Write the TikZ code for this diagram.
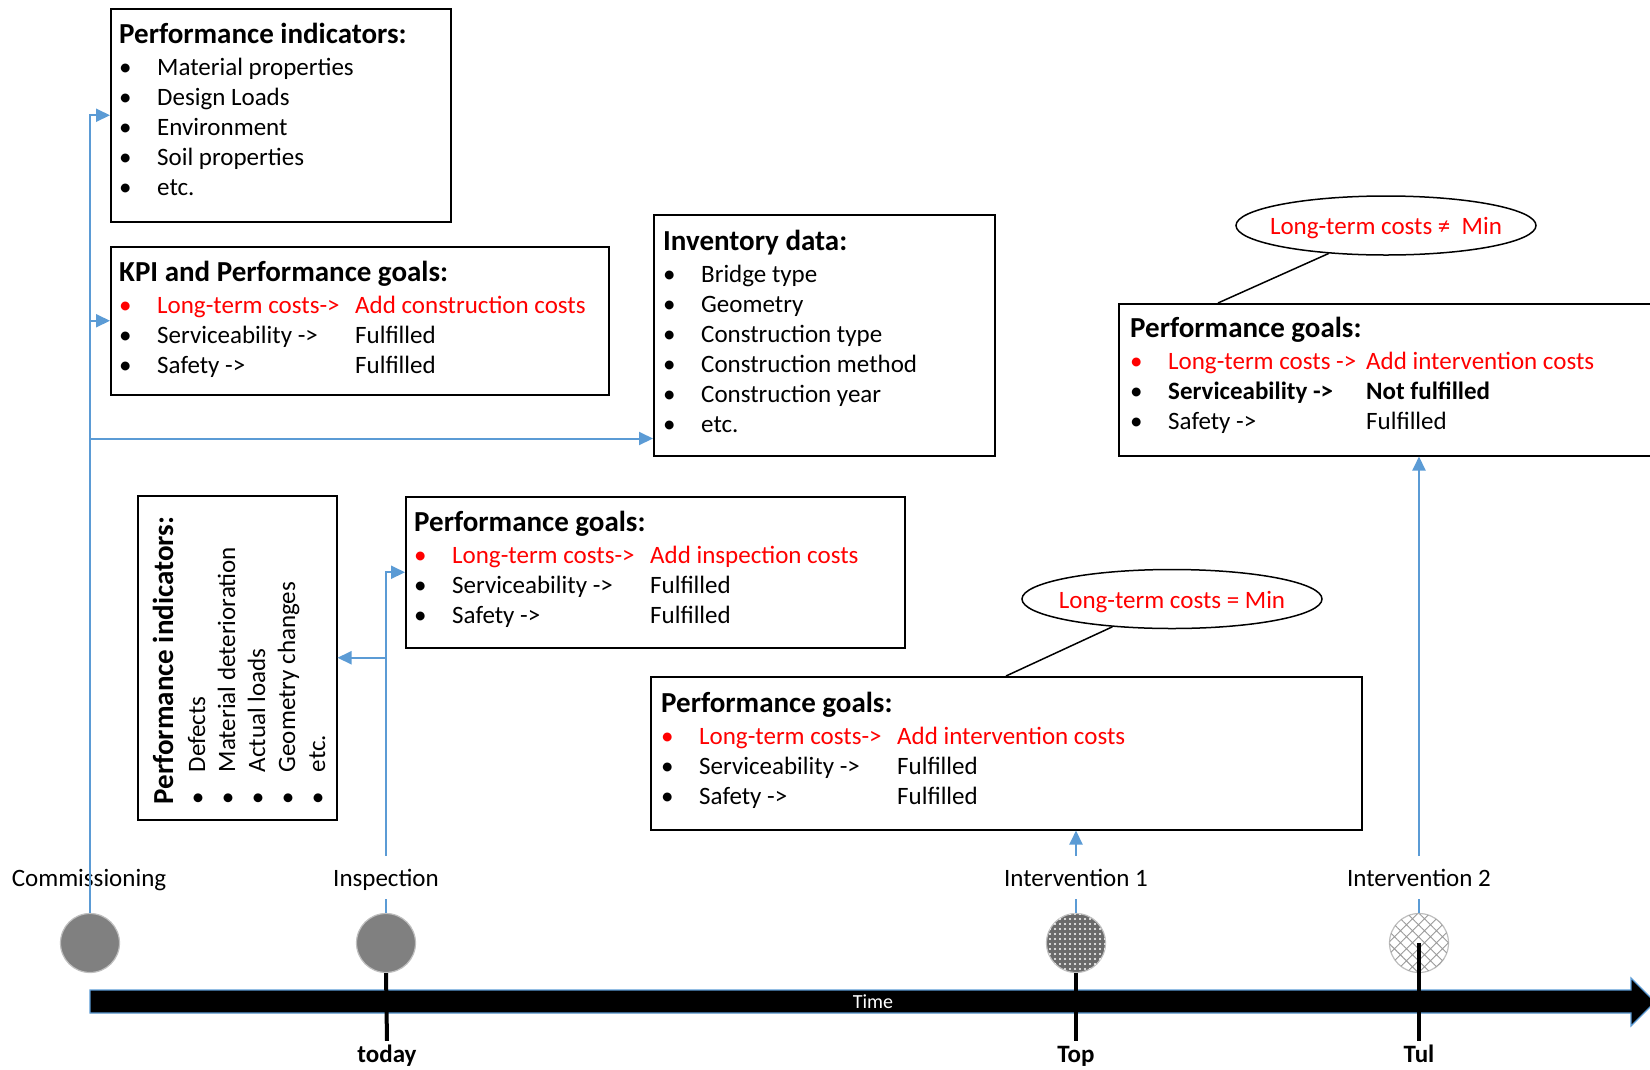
\documentclass[tikz,border=0pt]{standalone}
\usepackage{fontspec}
\setmainfont{Carlito}
\usetikzlibrary{shapes.geometric,arrows.meta,patterns.meta,calc}

\definecolor{flowblue}{HTML}{5B9BD5}
\definecolor{ringgray}{HTML}{BFBFBF}
\definecolor{evgray}{HTML}{808080}
\definecolor{dotgray}{HTML}{6A6A6A}
\definecolor{hatchgray}{HTML}{9A9A9A}

\newcommand\bodyfont{\fontsize{25}{30}\selectfont}
\newlength\bulw
\setlength\bulw{38pt}
\newcommand\bl{\makebox[\bulw][l]{\textbullet}}
\newcommand\lab[1]{\makebox[198pt][l]{#1}}
\newcommand\hd[1]{{\fontsize{29}{30}\selectfont\bfseries #1}\\[2pt]}

\begin{document}
\begin{tikzpicture}[x=1pt, y=-1pt,
  box/.style={draw=black, line width=1.5pt, anchor=north west, inner sep=0pt},
  txt/.style={anchor=base west, inner sep=0pt, font=\bodyfont},
  flow/.style={draw=flowblue, line width=2pt, -{Triangle[length=14pt,width=13pt]}},
  tick/.style={draw=black, line width=4pt},
  event/.style={circle, minimum size=59pt, inner sep=0pt, draw=ringgray, line width=1.2pt},
  evlabel/.style={font=\bodyfont, anchor=base, fill=white, text height=22pt, text depth=5pt, inner xsep=2pt, inner ysep=8pt},
  datelabel/.style={font=\bodyfont\bfseries, anchor=base, inner xsep=0pt, inner ysep=3pt, text height=18pt},
  bubble/.style={ellipse, draw=black, line width=1.5pt, minimum width=300pt, minimum height=59pt, inner sep=0pt},
  bubbletext/.style={text=red, font=\bodyfont, inner sep=0pt, anchor=base, yshift=-9pt},
  callout/.style={draw=black, line width=1.5pt}
]
\useasboundingbox (0,0) rectangle (1650,1069);
\clip (0,0) rectangle (1650,1069);

% ---------- text boxes ----------
\node[box, minimum width=340pt, minimum height=213pt] (pi) at (110,8) {};
\node[txt] (pitext) at ([xshift=9pt,yshift=-35pt]pi.north west) {\begin{tabular}[t]{@{}l@{}}
\hd{Performance indicators:}
\bl Material properties\\
\bl Design Loads\\
\bl Environment\\
\bl Soil properties\\
\bl etc.
\end{tabular}};

\node[box, minimum width=498pt, minimum height=148pt] (kpi) at (110,246) {};
\node[txt] (kpitext) at ([xshift=9pt,yshift=-35pt]kpi.north west) {\begin{tabular}[t]{@{}l@{}}
\hd{KPI and Performance goals:}
\color{red}\bl\lab{Long-term costs->}Add construction costs\\
\bl\lab{Serviceability ->}Fulfilled\\
\bl\lab{Safety ->}Fulfilled
\end{tabular}};

\node[box, minimum width=341pt, minimum height=241pt] (inv) at (653,214) {};
\node[txt] (invtext) at ([xshift=10pt,yshift=-36pt]inv.north west) {\begin{tabular}[t]{@{}l@{}}
\hd{Inventory data:}
\bl Bridge type\\
\bl Geometry\\
\bl Construction type\\
\bl Construction method\\
\bl Construction year\\
\bl etc.
\end{tabular}};

\node[box, minimum width=199pt, minimum height=324pt] (vb) at (137,495) {};
\node[txt, rotate=90] (vbtext) at ([xshift=36pt,yshift=16pt]vb.south west) {\setlength\bulw{32pt}\begin{tabular}[t]{@{}l@{}}
\hd{Performance indicators:}
\bl Defects\\
\bl Material deterioration\\
\bl Actual loads\\
\bl Geometry changes\\
\bl etc.
\end{tabular}};

\node[box, minimum width=499pt, minimum height=151pt] (pg1) at (405,496) {};
\node[txt] (pg1text) at ([xshift=9pt,yshift=-35pt]pg1.north west) {\begin{tabular}[t]{@{}l@{}}
\hd{Performance goals:}
\color{red}\bl\lab{Long-term costs->}Add inspection costs\\
\bl\lab{Serviceability ->}Fulfilled\\
\bl\lab{Safety ->}Fulfilled
\end{tabular}};

\node[box, minimum width=711pt, minimum height=153pt] (pg2) at (650,676) {};
\node[txt] (pg2text) at ([xshift=11pt,yshift=-36pt]pg2.north west) {\begin{tabular}[t]{@{}l@{}}
\hd{Performance goals:}
\color{red}\bl\lab{Long-term costs->}Add intervention costs\\
\bl\lab{Serviceability ->}Fulfilled\\
\bl\lab{Safety ->}Fulfilled
\end{tabular}};

\node[box, minimum width=560pt, minimum height=152pt] (pg3) at (1118,303) {};
\node[txt] (pg3text) at ([xshift=12pt,yshift=-34pt]pg3.north west) {\begin{tabular}[t]{@{}l@{}}
\hd{Performance goals:}
\color{red}\bl\lab{Long-term costs ->}Add intervention costs\\
\bl\lab{\bfseries Serviceability ->}\textbf{Not fulfilled}\\
\bl\lab{Safety ->}Fulfilled
\end{tabular}};

% ---------- cost bubbles ----------
\node[bubble] (cost1) at (1386,225.5) {};
\node[bubbletext] (cost1text) at (cost1.center) {Long-term costs ≠~ Min};
\node[bubble] (cost2) at (1172,599) {};
\node[bubbletext] (cost2text) at (cost2.center) {Long-term costs = Min};
\draw[callout] (cost1.206) -- ([xshift=100pt]pg3.north west);
\draw[callout] (cost2.205) -- ([xshift=356pt]pg2.north west);

% ---------- time axis ----------
\filldraw[fill=black, draw=flowblue, line width=1.2pt]
  (90,990) -- (1631,990) -- (1631,978) -- (1655,1002) -- (1631,1026) -- (1631,1013) -- (90,1013) -- cycle;
\node[font=\fontsize{20}{22}\selectfont, text=white, inner sep=0pt] (time) at (873,1002) {Time};

% ---------- events ----------
\node[event, fill=evgray] (ev1) at (90,943) {};
\node[event, fill=evgray] (ev2) at (386,943) {};
\node[event, fill=dotgray, postaction={pattern={Dots[radius=1.1pt,distance=5pt]}, pattern color=white}] (ev3) at (1076,943) {};
\node[event, fill=white, postaction={pattern={Hatch[angle=45,distance=8.5pt,line width=0.9pt]}, pattern color=hatchgray}] (ev4) at (1419,943) {};

\node[datelabel] (today) at (387,1062) {today};
\node[datelabel] (top) at (1076,1062) {Top};
\node[datelabel] (tul) at (1419,1062) {Tul};
\draw[tick] (ev2.south) -- (today.north);
\draw[tick] (ev3.south) -- (top.north);
\draw[tick] (ev4.center) -- (tul.north);

% ---------- information flow ----------
\node[font=\bodyfont, anchor=base, inner sep=0pt] (lcom) at (89,886) {Commissioning};
\coordinate (invin) at ([yshift=18pt]inv.south west);
\draw[flow] (ev1.north) |- (pi.west);
\draw[flow] (ev1.north |- kpi.west) -- (kpi.west);
\draw[flow] (ev1.north |- invin) -- (invin);

\draw[flow] (ev2.north) |- (pg1.west);
\draw[flow] (ev2.north |- vb.east) -- (vb.east);
\draw[flow] (ev3.north) -- (ev3.north |- pg2.south);
\draw[flow] (ev4.north) -- (ev4.north |- pg3.south);

\node[evlabel] (lins) at (386,886) {Inspection};
\node[evlabel] (lint1) at (1076,886) {Intervention 1};
\node[evlabel] (lint2) at (1419,886) {Intervention 2};
\end{tikzpicture}
\end{document}
